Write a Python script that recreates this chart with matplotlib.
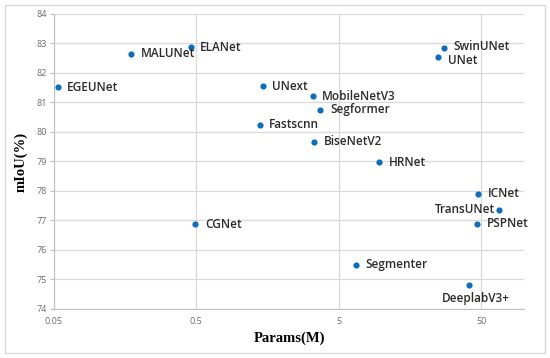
import matplotlib
matplotlib.use("Agg")
import matplotlib.pyplot as plt
from matplotlib.patches import Rectangle

# model names, params (M) and mIoU (%)
names = ["EGEUNet", "MALUNet", "ELANet", "UNext", "Fastscnn", "CGNet",
         "SwinUNet", "UNet", "MobileNetV3", "Segformer", "BiseNetV2", "HRNet",
         "ICNet", "TransUNet", "PSPNet", "Segmenter", "DeeplabV3+"]
params = [0.053, 0.174, 0.455, 1.46, 1.39, 0.49,
          27.2, 24.8, 3.27, 3.70, 3.34, 9.6,
          47.2, 67.0, 46.5, 6.6, 41.0]
miou = [81.51, 82.65, 82.88, 81.55, 80.25, 76.87,
        82.86, 82.54, 81.21, 80.75, 79.67, 78.97,
        77.91, 77.36, 76.89, 75.50, 74.80]

xticks = [0.05, 0.5, 5, 50]
xtick_labels = ["0.05", "0.5", "5", "50"]
yticks = list(range(74, 85))

fig = plt.figure(figsize=(5.5, 3.58), dpi=100)
fig.patches.append(Rectangle((0.009, 0.014), 0.982, 0.972, transform=fig.transFigure,
                             fill=False, edgecolor="#d9d9d9", linewidth=1.0))
ax = fig.add_axes([0.098, 0.137, 0.855, 0.824])

ax.scatter(params, miou, s=20, color="#0a6fc2", zorder=3, linewidths=0)

ax.set_xscale("log")
ax.set_xlim(0.05, 100)
ax.set_ylim(74, 84)
ax.set_xticks(xticks)
ax.set_xticklabels(xtick_labels)
ax.xaxis.set_minor_locator(matplotlib.ticker.NullLocator())
ax.set_yticks(yticks)

ax.grid(True, color="#d9d9d9", linewidth=0.9)
ax.set_axisbelow(True)
for side in ["top", "right"]:
    ax.spines[side].set_visible(False)
for side in ["left", "bottom"]:
    ax.spines[side].set_color("#bfbfbf")
ax.tick_params(axis="y", length=3, color="#bfbfbf", labelsize=6.5, labelcolor="#6b6b6b", pad=2)
ax.tick_params(axis="x", length=0, labelsize=6.5, labelcolor="#6b6b6b", pad=6)
for lab in ax.get_xticklabels() + ax.get_yticklabels():
    lab.set_family("Open Sans")

ax.set_xlabel("Params(M)", family="Liberation Serif", fontweight="bold", fontsize=10.5, labelpad=4)
ax.set_ylabel("mIoU(%)", family="Liberation Serif", fontweight="bold", fontsize=10.5, labelpad=6)

for n, x, y in zip(names, params, miou):
    off, ha, va = (7, 0), "left", "center"
    if n == "TransUNet":
        off, ha = (-3.5, 0), "right"
    elif n == "DeeplabV3+":
        off, ha, va = (5, -5), "center", "top"
    elif n == "UNet":
        off = (7, -2.5)
    elif n == "SwinUNet":
        off = (7, 0.5)
    ax.annotate(n, (x, y), xytext=off, textcoords="offset points", ha=ha, va=va,
                fontsize=8.5, family="Open Sans", fontweight="semibold", color="#2b2b2b")

fig.savefig("out.png", dpi=100)
